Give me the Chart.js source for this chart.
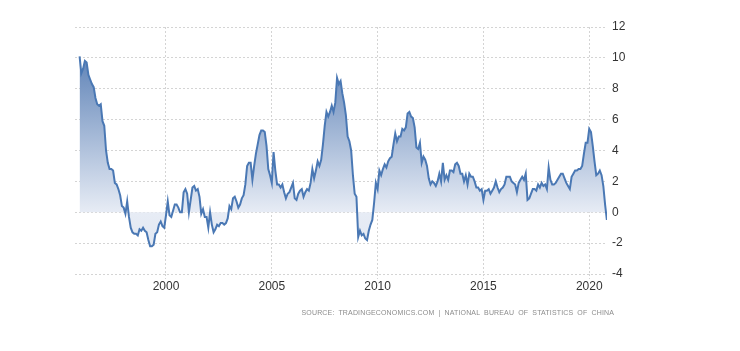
<!DOCTYPE html>
<html lang="en">

<head>
  <meta charset="UTF-8" />
  <title>China Inflation Rate</title>
  <script src="https://cdn.jsdelivr.net/npm/chart.js"></script>
  <style>
    body { margin: 0; background: #fff; }
    #wrap { position: relative; width: 740px; height: 351px; }
    #source {
      position: absolute; right: 126px; top: 309px;
      font: 7px "Liberation Sans", Arial, sans-serif;
      letter-spacing: 0.15px; word-spacing: 2px;
      color: #8c8c8c; white-space: nowrap;
    }
  </style>
</head>

<body>
  <div id="wrap">
    <canvas id="inflacao" width="740" height="351"></canvas>
    <div id="source">SOURCE: TRADINGECONOMICS.COM | NATIONAL BUREAU OF STATISTICS OF CHINA</div>
  </div>

  <script>
    // Série mensal (CPI, % a/a), começa em dez/1995
    const startYear = 1995;
    const startMonth = 12;
    const values1990s = [
      10.1,
      9.0, 9.3, 9.8, 9.7, 8.9, 8.6, 8.3, 8.1, 7.4, 7.0, 6.9, 7.0,
      5.9, 5.6, 4.0, 3.2, 2.8, 2.8, 2.7, 1.9, 1.8, 1.5, 1.1, 0.4,
      0.3, -0.1, 0.7, -0.3, -1.0, -1.3, -1.4, -1.4, -1.5, -1.1, -1.2, -1.0,
      -1.2, -1.3, -1.8, -2.2, -2.2, -2.1, -1.4, -1.3, -0.8, -0.6, -0.9, -1.0
    ];
    const values2000s = [
      -0.2, 0.7, -0.2, -0.3, 0.1, 0.5, 0.5, 0.3, 0.0, 0.0, 1.3, 1.5,
      1.2, 0.0, 0.8, 1.6, 1.7, 1.4, 1.5, 1.0, -0.1, 0.2, -0.3, -0.3,
      -1.0, 0.0, -0.8, -1.3, -1.1, -0.8, -0.9, -0.7, -0.7, -0.8, -0.7, -0.4,
      0.4, 0.2, 0.9, 1.0, 0.7, 0.3, 0.5, 0.9, 1.1, 1.8, 3.0, 3.2,
      3.2, 2.1, 3.0, 3.8, 4.4, 5.0, 5.3, 5.3, 5.2, 4.3, 2.8, 2.4,
      1.9, 3.9, 2.7, 1.8, 1.8, 1.6, 1.8, 1.3, 0.9, 1.2, 1.3, 1.6,
      1.9, 0.9, 0.8, 1.2, 1.4, 1.5, 1.0, 1.3, 1.5, 1.4, 1.9, 2.8,
      2.2, 2.7, 3.3, 3.0, 3.4, 4.4, 5.6, 6.5, 6.2, 6.5, 6.9, 6.5,
      7.1, 8.7, 8.3, 8.5, 7.7, 7.1, 6.3, 4.9, 4.6, 4.0, 2.4, 1.2,
      1.0, -1.6, -1.2, -1.5, -1.4, -1.7, -1.8, -1.2, -0.8, -0.5, 0.6, 1.9
    ];
    const values2010s = [
      1.5, 2.7, 2.4, 2.8, 3.1, 2.9, 3.3, 3.5, 3.6, 4.4, 5.1, 4.6,
      4.9, 4.9, 5.4, 5.3, 5.5, 6.4, 6.5, 6.2, 6.1, 5.5, 4.2, 4.1,
      4.5, 3.2, 3.6, 3.4, 3.0, 2.2, 1.8, 2.0, 1.9, 1.7, 2.0, 2.5,
      2.0, 3.2, 2.1, 2.4, 2.1, 2.7, 2.7, 2.6, 3.1, 3.2, 3.0, 2.5,
      2.5, 2.0, 2.4, 1.8, 2.5, 2.3, 2.3, 2.0, 1.6, 1.6, 1.4, 1.5,
      0.8, 1.4, 1.4, 1.5, 1.2, 1.4, 1.6, 2.0, 1.6, 1.3, 1.5, 1.6,
      1.8, 2.3, 2.3, 2.3, 2.0, 1.9, 1.8, 1.3, 1.9, 2.1, 2.3, 2.1,
      2.5, 0.8, 0.9, 1.2, 1.5, 1.5, 1.4, 1.8, 1.6, 1.9, 1.7, 1.8,
      1.5, 2.9, 2.1, 1.8, 1.8, 1.9, 2.1, 2.3, 2.5, 2.5, 2.2, 1.9,
      1.7, 1.5, 2.3, 2.5, 2.7, 2.7, 2.8, 2.8, 3.0, 3.8, 4.5, 4.5
    ];
    const values2020s = [5.4, 5.2, 4.3, 3.3, 2.4, 2.5, 2.7, 2.4, 1.7, 0.5, -0.5];

    const xTickYears = [2000, 2005, 2010, 2015, 2020];
    const yTicks = [-4, -2, 0, 2, 4, 6, 8, 10, 12];

    const allValues = [...values1990s, ...values2000s, ...values2010s, ...values2020s];
    const pontos = allValues.map((v, i) => ({
      x: startYear + (startMonth - 1 + i) / 12,
      y: v
    }));

    const fonte = { family: '"Liberation Sans", Arial, sans-serif', size: 12 };
    const corGrade = '#d4d4d4';

    // gradiente do preenchimento (escuro em cima, claro perto do zero)
    function gradiente(context) {
      const chart = context.chart;
      const area = chart.chartArea;
      if (!area) return 'rgba(74,120,180,0.4)';
      const y0 = chart.scales.y.getPixelForValue(0);
      const stop0 = Math.min(1, Math.max(0, (y0 - area.top) / (area.bottom - area.top)));
      const g = chart.ctx.createLinearGradient(0, area.top, 0, area.bottom);
      g.addColorStop(0, 'rgb(70,112,172)');
      g.addColorStop(stop0, 'rgb(231,236,245)');
      g.addColorStop(1, 'rgb(222,230,241)');
      return g;
    }

    new Chart(document.getElementById('inflacao'), {
      type: 'line',
      data: {
        datasets: [{
          data: pontos,
          borderColor: '#4a78b4',
          borderWidth: 2,
          pointRadius: 0,
          tension: 0,
          fill: 'origin',
          backgroundColor: gradiente
        }]
      },
      options: {
        responsive: false,
        devicePixelRatio: 1,
        animation: false,
        layout: { padding: { left: 75, top: 27, right: 0, bottom: 0 } },
        plugins: { legend: { display: false }, tooltip: { enabled: false } },
        scales: {
          x: {
            type: 'linear',
            min: 1995.7,
            max: 2020.84,
            afterBuildTicks: s => { s.ticks = xTickYears.map(v => ({ value: v })); },
            afterFit: s => { s.height = 351 - 274; },
            grid: { color: corGrade, tickLength: 5, tickColor: corGrade, tickBorderDash: [2, 2] },
            border: { display: false, dash: [2, 2] },
            ticks: { font: fonte, color: '#333', padding: 0, maxRotation: 0, callback: v => String(v) }
          },
          y: {
            position: 'right',
            min: -4,
            max: 12,
            afterBuildTicks: s => { s.ticks = yTicks.map(v => ({ value: v })); },
            afterFit: s => { s.width = 740 - 607; },
            grid: { color: corGrade, drawTicks: false },
            border: { display: false, dash: [2, 2] },
            ticks: { font: fonte, color: '#333', padding: 5 }
          }
        }
      }
    });
  </script>

</body>

</html>
